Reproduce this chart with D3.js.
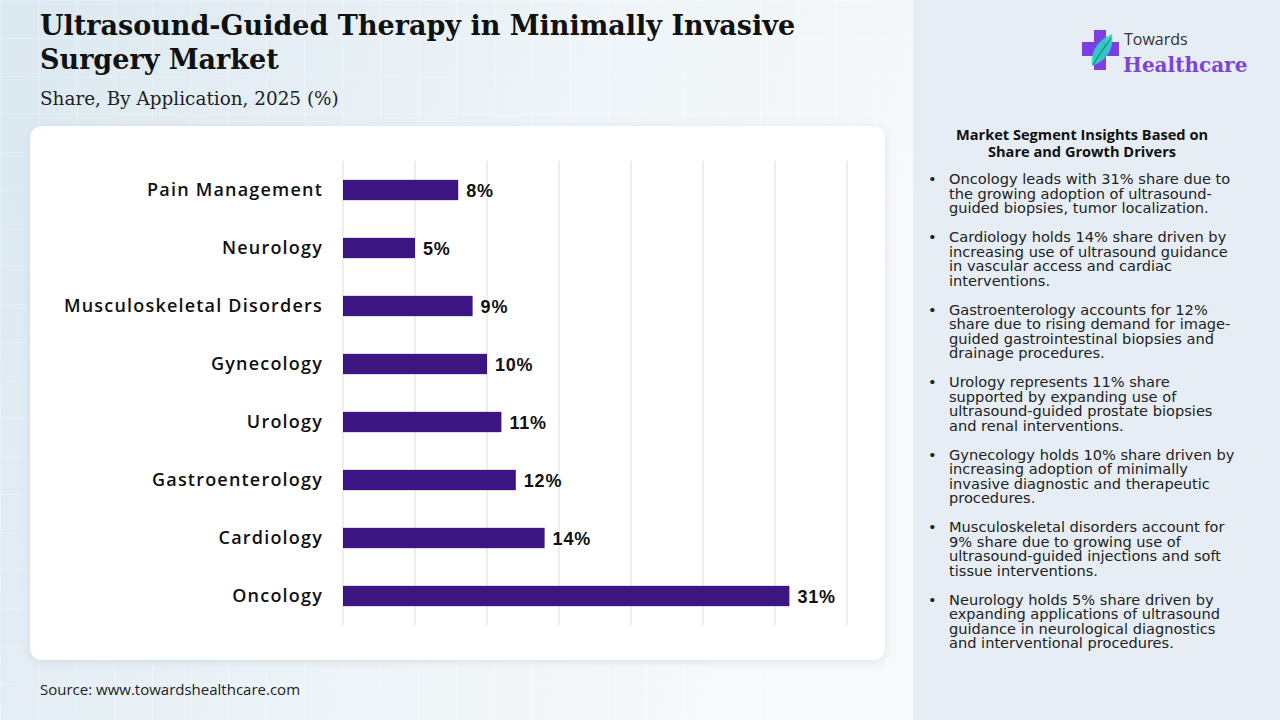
<!DOCTYPE html>
<html>
<head>
<meta charset="utf-8">
<script src="https://cdn.jsdelivr.net/npm/d3@7"></script>
<style>
  html, body { margin: 0; padding: 0; }
  body { width: 1280px; height: 720px; overflow: hidden; }
</style>
</head>
<body>
<svg width="1280" height="720"></svg>
<script>
// data
const categories = ['Pain Management', 'Neurology', 'Musculoskeletal Disorders', 'Gynecology',
    'Urology', 'Gastroenterology', 'Cardiology', 'Oncology'];
const shares = [8, 5, 9, 10, 11, 12, 14, 31];
const xTicks = [0, 5, 10, 15, 20, 25, 30, 35];

const insights = [
    ['Oncology leads with 31% share due to', 'the growing adoption of ultrasound-', 'guided biopsies, tumor localization.'],
    ['Cardiology holds 14% share driven by', 'increasing use of ultrasound guidance', 'in vascular access and cardiac', 'interventions.'],
    ['Gastroenterology accounts for 12%', 'share due to rising demand for image-', 'guided gastrointestinal biopsies and', 'drainage procedures.'],
    ['Urology represents 11% share', 'supported by expanding use of', 'ultrasound-guided prostate biopsies', 'and renal interventions.'],
    ['Gynecology holds 10% share driven by', 'increasing adoption of minimally', 'invasive diagnostic and therapeutic', 'procedures.'],
    ['Musculoskeletal disorders account for', '9% share due to growing use of', 'ultrasound-guided injections and soft', 'tissue interventions.'],
    ['Neurology holds 5% share driven by', 'expanding applications of ultrasound', 'guidance in neurological diagnostics', 'and interventional procedures.']
];

const svg = d3.select('svg');
const defs = svg.append('defs');

// background gradient + faint grid
const bg = defs.append('linearGradient').attr('id', 'bg').attr('x1', 0).attr('x2', 1).attr('y1', 0).attr('y2', 0.3);
bg.append('stop').attr('offset', '0%').attr('stop-color', '#dbe8f0');
bg.append('stop').attr('offset', '60%').attr('stop-color', '#eef4f8');
bg.append('stop').attr('offset', '100%').attr('stop-color', '#f7f9fb');

const grid = defs.append('pattern').attr('id', 'grid').attr('patternUnits', 'userSpaceOnUse')
    .attr('width', 38).attr('height', 38);
grid.append('path').attr('d', 'M38 0 L0 0 0 38').attr('fill', 'none')
    .attr('stroke', '#ffffff').attr('stroke-opacity', 0.45).attr('stroke-width', 1.2);

const shadow = defs.append('filter').attr('id', 'shadow').attr('x', -0.05).attr('y', -0.05).attr('width', 1.1).attr('height', 1.1);
shadow.append('feDropShadow').attr('dx', 0).attr('dy', 2).attr('stdDeviation', 4)
    .attr('flood-color', '#8aa0b4').attr('flood-opacity', 0.25);

svg.append('rect').attr('width', 913).attr('height', 720).attr('fill', 'url(#bg)');
svg.append('rect').attr('width', 913).attr('height', 720).attr('fill', 'url(#grid)');

// right panel
svg.append('rect').attr('x', 913).attr('width', 367).attr('height', 720).attr('fill', '#e6edf4');

// title
const title = svg.append('text').attr('x', 40).attr('font-family', 'DejaVu Serif')
    .attr('font-weight', 'bold').attr('font-size', 27).attr('fill', '#111');
title.append('tspan').attr('x', 40).attr('y', 35).text('Ultrasound-Guided Therapy in Minimally Invasive');
title.append('tspan').attr('x', 40).attr('y', 69).text('Surgery Market');

svg.append('text').attr('x', 40).attr('y', 105).attr('font-family', 'DejaVu Serif')
    .attr('font-size', 18.4).attr('fill', '#222').text('Share, By Application, 2025 (%)');

// card
svg.append('rect').attr('x', 30).attr('y', 126).attr('width', 855).attr('height', 534)
    .attr('rx', 12).attr('fill', '#fff').attr('filter', 'url(#shadow)');

// scales
const x = d3.scaleLinear().domain([0, 35]).range([343, 847]);
const y = d3.scaleBand().domain(categories).range([161, 625]).paddingInner(0.65).paddingOuter(0.325);

// gridlines
svg.append('g').selectAll('line').data(xTicks).join('line')
    .attr('x1', d => x(d)).attr('x2', d => x(d))
    .attr('y1', 161).attr('y2', 625)
    .attr('stroke', '#dcdcdc').attr('stroke-width', 1);

// bars
svg.append('g').selectAll('rect').data(shares).join('rect')
    .attr('x', x(0))
    .attr('y', (d, i) => y(categories[i]))
    .attr('width', d => x(d) - x(0))
    .attr('height', y.bandwidth())
    .attr('fill', '#3b1582');

// value labels
svg.append('g').selectAll('text').data(shares).join('text')
    .attr('x', d => x(d) + 8)
    .attr('y', (d, i) => y(categories[i]) + y.bandwidth() / 2)
    .attr('dy', '0.38em')
    .attr('font-family', 'Liberation Sans, Arial').attr('font-weight', 'bold')
    .attr('font-size', 18).attr('letter-spacing', 0.8).attr('fill', '#111')
    .text(d => d + '%');

// category labels
const yAxis = svg.append('g').attr('transform', 'translate(323,0)')
    .call(d3.axisLeft(y).tickSize(0).tickPadding(0));
yAxis.select('.domain').remove();
yAxis.selectAll('text')
    .attr('font-family', 'Open Sans').attr('font-weight', 600)
    .attr('font-size', 18).attr('letter-spacing', 1.2).attr('fill', '#111');

// source
svg.append('text').attr('x', 40).attr('y', 695).attr('font-family', 'Open Sans')
    .attr('font-size', 15).attr('fill', '#222').text('Source: www.towardshealthcare.com');

// logo
const logo = svg.append('g').attr('transform', 'translate(1082,30)');
logo.append('path')
    .attr('d', 'M12 0 H24 V12 H37 V26 H24 V40 H12 V26 H0 V12 H12 Z')
    .attr('fill', '#7b3fe4');
logo.append('path')
    .attr('d', 'M10 36 C8 22 16 10 30 4 C32 18 26 30 10 36 Z')
    .attr('fill', '#2fd3c0').attr('opacity', 0.9);
logo.append('path')
    .attr('d', 'M11 35 C16 26 22 18 29 8').attr('stroke', '#1a8f86').attr('stroke-width', 1.2).attr('fill', 'none');
svg.append('text').attr('x', 1124).attr('y', 45).attr('font-family', 'Open Sans')
    .attr('font-size', 16).attr('fill', '#333').text('Towards');
svg.append('text').attr('x', 1123).attr('y', 72).attr('font-family', 'DejaVu Serif')
    .attr('font-weight', 'bold').attr('font-size', 20).attr('fill', '#7d45d6').text('Healthcare');

// insights panel
const head = svg.append('text').attr('text-anchor', 'middle').attr('font-family', 'Open Sans')
    .attr('font-weight', 'bold').attr('font-size', 14.6).attr('fill', '#111');
head.append('tspan').attr('x', 1082).attr('y', 140).text('Market Segment Insights Based on');
head.append('tspan').attr('x', 1082).attr('y', 157).text('Share and Growth Drivers');

const lineH = 14.5;
let yPos = 179;
insights.forEach(lines => {
    svg.append('text').attr('x', 928).attr('y', yPos + 5).attr('font-family', 'DejaVu Sans')
        .attr('font-size', 14.6).attr('fill', '#222').text('•');
    const t = svg.append('text').attr('font-family', 'DejaVu Sans').attr('font-size', 14.6)
        .attr('fill', '#222');
    lines.forEach((l, j) => {
        t.append('tspan').attr('x', 949).attr('y', yPos + 5 + j * lineH).text(l);
    });
    yPos += lines.length * lineH + 14.5;
});
</script>
</body>
</html>
